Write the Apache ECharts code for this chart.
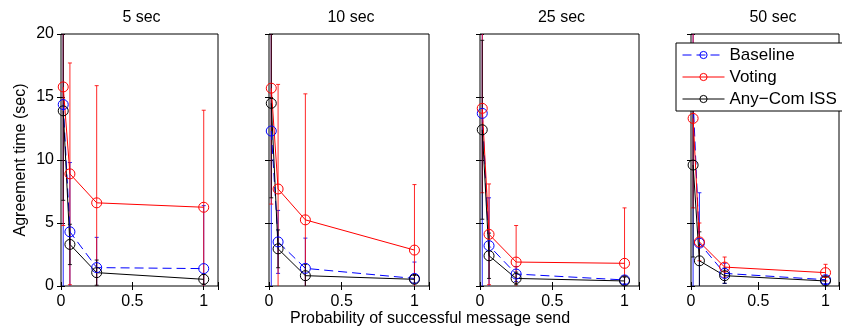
<!DOCTYPE html>
<html>
<head>
<meta charset="utf-8">
<script src="https://cdn.jsdelivr.net/npm/echarts@6/dist/echarts.min.js"></script>
<style>
  html, body { margin: 0; padding: 0; background: #fff; }
  #chart { width: 842px; height: 335px; }
</style>
</head>
<body>
<div id="chart"></div>
<script>
// x positions (probability of successful send) and panel titles
const probs = [1 / 64, 1 / 16, 1 / 4, 1]
const panelTitles = ['5 sec', '10 sec', '25 sec', '50 sec']
const xTicks = [0, 0.5, 1]
const yTicks = [0, 5, 10, 15, 20]

// one row per panel, one value per prob
const baselineMean = [
  [14.4, 4.3, 1.46, 1.38],
  [12.3, 3.5, 1.4, 0.6],
  [13.7, 3.2, 0.95, 0.48],
  [14.8, 3.4, 1.0, 0.5]
]
const baselineStd = [
  [16, 5.5, 2.4, 5.0],
  [13, 2.5, 2.4, 1.3],
  [14, 3.8, 0.6, 0.3],
  [15, 4.0, 0.8, 0.3]
]
const votingMean = [
  [15.8, 8.9, 6.6, 6.25],
  [15.7, 7.7, 5.25, 2.85],
  [14.1, 4.1, 1.9, 1.8],
  [13.3, 3.5, 1.5, 1.06]
]
const votingStd = [
  [11, 8.8, 9.3, 7.7],
  [9.2, 8.3, 10, 5.2],
  [6.7, 4.0, 2.9, 4.4],
  [7.1, 1.5, 0.8, 0.66]
]
const anycomMean = [
  [13.9, 3.3, 1.06, 0.53],
  [14.5, 2.95, 0.82, 0.53],
  [12.4, 2.4, 0.6, 0.4],
  [9.6, 2.0, 0.82, 0.4]
]
const anycomStd = [
  [7.1, 1.6, 1.0, 0.4],
  [7.5, 1.5, 0.9, 0.3],
  [7.1, 1.8, 0.5, 0.3],
  [7.3, 2.3, 0.6, 0.3]
]

const FONT = 'Liberation Sans, Arial, sans-serif'
const grids = [
  { left: 61, width: 157 },
  { left: 269, width: 160 },
  { left: 480, width: 159 },
  { left: 691, width: 160 }
]

const seriesDefs = [
  { name: 'Baseline', color: '#0000ff', dash: [9, 5], mean: baselineMean, std: baselineStd },
  { name: 'Voting', color: '#ff0000', dash: 'solid', mean: votingMean, std: votingStd },
  { name: 'Any\u2212Com ISS', color: '#000000', dash: 'solid', mean: anycomMean, std: anycomStd }
]

const renderErrorBar = (params, api) => {
  const x = api.value(0)
  const top = api.coord([x, api.value(2)])
  const bot = api.coord([x, api.value(1)])
  const color = api.visual('color')
  const cap = 2
  const st = { stroke: color, lineWidth: 1, opacity: 0.85 }
  return {
    type: 'group',
    children: [
      { type: 'line', shape: { x1: top[0], y1: top[1], x2: bot[0], y2: bot[1] }, style: st },
      { type: 'line', shape: { x1: top[0] - cap, y1: top[1], x2: top[0] + cap, y2: top[1] }, style: st },
      { type: 'line', shape: { x1: bot[0] - cap, y1: bot[1], x2: bot[0] + cap, y2: bot[1] }, style: st }
    ]
  }
}

const xAxes = []
const yAxes = []
const series = []
const titles = []

grids.forEach((g, k) => {
  const base = {
    gridIndex: k, type: 'value', min: 0,
    axisLine: { show: false },
    axisTick: { show: true, inside: true, length: 4, lineStyle: { color: '#000' } },
    splitLine: { show: false }
  }
  xAxes.push({
    ...base, max: 1.1, interval: 0.5, position: 'bottom',
    axisLabel: { show: true, margin: 8, color: '#000', fontSize: 16, fontFamily: FONT,
      formatter: v => (xTicks.includes(v) ? String(v) : '') }
  })
  yAxes.push({
    ...base, max: 20, interval: 5, position: 'left',
    axisLabel: { show: k === 0, margin: 7, color: '#000', fontSize: 16, fontFamily: FONT,
      formatter: v => (yTicks.includes(v) ? String(v) : '') },
    name: k === 0 ? 'Agreement time (sec)' : '',
    nameLocation: 'middle', nameGap: 32, nameRotate: 90,
    nameTextStyle: { color: '#000', fontSize: 16, fontFamily: FONT }
  })
  titles.push({
    text: panelTitles[k], left: g.left + g.width / 2 - 3, top: 5, textAlign: 'center',
    textStyle: { color: '#000', fontSize: 16, fontWeight: 'normal', fontFamily: FONT }
  })

  seriesDefs.forEach(s => {
    series.push({
      type: 'custom',
      xAxisIndex: k, yAxisIndex: k,
      clip: true,
      itemStyle: { color: s.color },
      renderItem: renderErrorBar,
      data: probs.map((p, i) => [p, s.mean[k][i] - s.std[k][i], s.mean[k][i] + s.std[k][i]]),
      z: 2
    })
    series.push({
      name: s.name,
      type: 'line',
      xAxisIndex: k, yAxisIndex: k,
      symbol: 'circle', symbolSize: 10,
      itemStyle: { color: 'rgba(255,255,255,0)', borderColor: s.color, borderWidth: 1 },
      lineStyle: { color: s.color, width: 1, type: s.dash },
      data: probs.map((p, i) => [p, s.mean[k][i]]),
      animation: false,
      z: 3
    })
  })
})

// mirror axes for the box ticks on top/right
grids.forEach((g, k) => {
  xAxes.push({
    gridIndex: k, type: 'value', min: 0, max: 1.1, interval: 0.5, position: 'top',
    axisLine: { show: false }, axisLabel: { show: false }, splitLine: { show: false },
    axisTick: { show: true, inside: true, length: 4, lineStyle: { color: '#000' } }
  })
  yAxes.push({
    gridIndex: k, type: 'value', min: 0, max: 20, interval: 5, position: 'right',
    axisLine: { show: false }, axisLabel: { show: false }, splitLine: { show: false },
    axisTick: { show: true, inside: true, length: 4, lineStyle: { color: '#000' } }
  })
})

const chart = echarts.init(document.getElementById('chart'), null, { renderer: 'canvas' })
chart.setOption({
  animation: false,
  backgroundColor: '#fff',
  title: titles,
  grid: grids.map(g => ({
    left: g.left, width: g.width, top: 34, height: 252,
    show: true, borderColor: '#000', borderWidth: 1, backgroundColor: 'transparent'
  })),
  xAxis: xAxes,
  yAxis: yAxes,
  legend: {
    data: seriesDefs.map(s => s.name),
    orient: 'vertical',
    left: 676, top: 43,
    padding: [3, 60, 3, 6],
    itemWidth: 42, itemHeight: 9, itemGap: 4,
    backgroundColor: '#fff',
    borderColor: '#000', borderWidth: 1,
    lineStyle: { width: 1 },
    itemStyle: { borderWidth: 1 },
    textStyle: { color: '#000', fontSize: 17, lineHeight: 18, fontFamily: FONT },
    selectedMode: false,
    z: 10
  },
  graphic: [{
    type: 'text', left: 290, top: 311,
    style: { text: 'Probability of successful message send', fill: '#000', font: '16px ' + FONT }
  }],
  series: series
})
</script>
</body>
</html>
